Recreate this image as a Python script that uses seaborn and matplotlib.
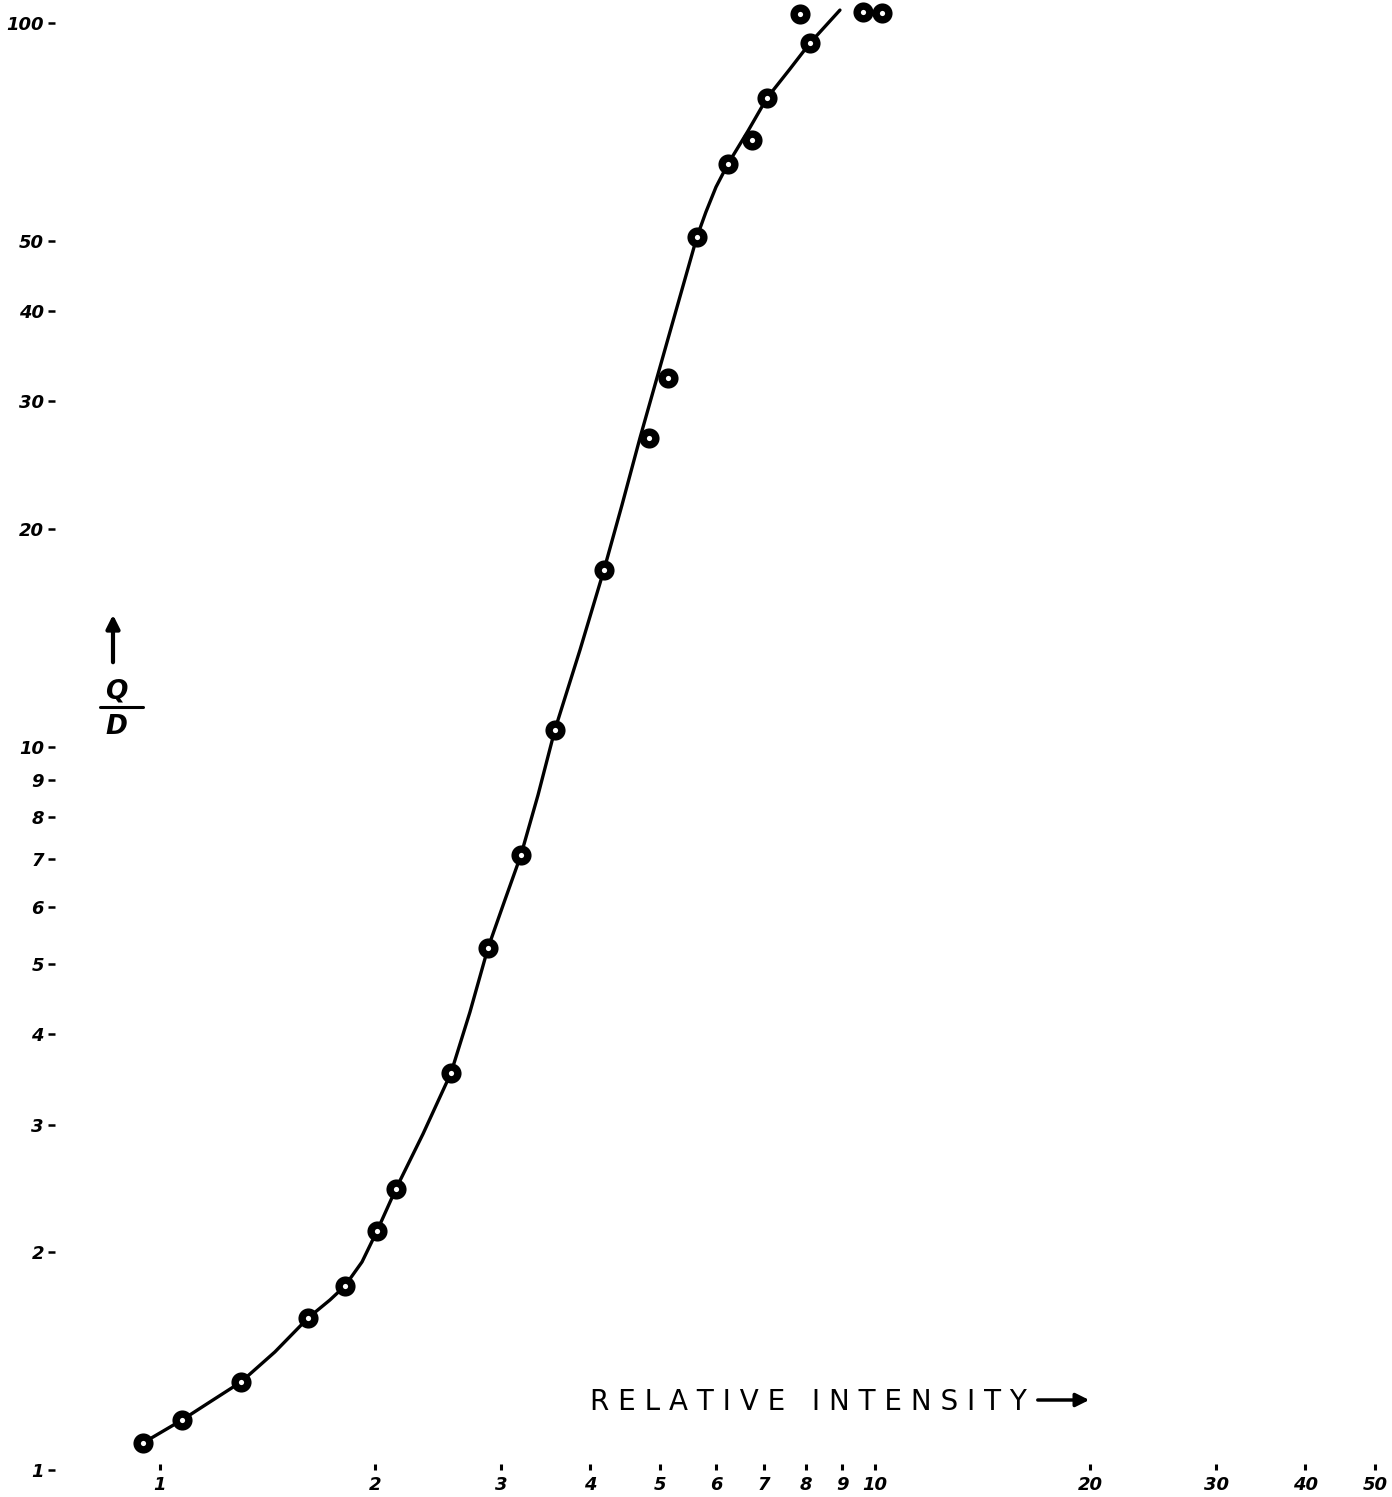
import matplotlib
matplotlib.use("Agg")
import matplotlib.pyplot as plt
import seaborn as sns
from matplotlib.ticker import FixedLocator, NullLocator, FixedFormatter
from matplotlib.lines import Line2D

# ---- data (log-log plot) ----
intensity = [0.947, 1.073, 1.298, 1.611, 1.814, 2.012, 2.138, 2.553, 2.876, 3.198,
             3.567, 4.178, 4.830, 5.134, 5.636, 6.229, 6.730, 7.063, 8.113, 7.857,
             9.621, 10.23]
ratio = [1.090, 1.172, 1.323, 1.622, 1.796, 2.140, 2.446, 3.538, 5.266, 7.079,
         10.54, 17.54, 26.70, 32.31, 50.61, 63.86, 68.90, 78.77, 93.85, 102.9,
         103.6, 103.2]

# hand-drawn smooth curve
curve_intensity = [0.947, 1.073, 1.175, 1.298, 1.448, 1.611, 1.729, 1.814, 1.917,
                   2.012, 2.138, 2.333, 2.553, 2.714, 2.876, 3.037, 3.198, 3.379,
                   3.567, 3.868, 4.178, 4.428, 4.692, 5.134, 5.636, 5.802, 5.993,
                   6.229, 6.643, 7.063, 7.604, 8.113, 8.933]
curve_ratio = [1.090, 1.172, 1.242, 1.323, 1.456, 1.622, 1.718, 1.796, 1.939,
               2.140, 2.446, 2.914, 3.538, 4.296, 5.266, 6.135, 7.079, 8.570,
               10.54, 13.60, 17.54, 21.57, 26.70, 36.58, 50.61, 54.80, 59.33,
               63.86, 70.91, 78.77, 86.38, 93.85, 104.2]

x_ticks = [1, 2, 3, 4, 5, 6, 7, 8, 9, 10, 20, 30, 40, 50]
x_tick_labels = ["1", "2", "3", "4", "5", "6", "7", "8", "9", "10", "20", "30", "40", "50"]
y_ticks = [1, 2, 3, 4, 5, 6, 7, 8, 9, 10, 20, 30, 40, 50, 100]
y_tick_labels = ["1", "2", "3", "4", "5", "6", "7", "8", "9", "10", "20", "30", "40", "50", "100"]

x_title = "R E L A T I V E   I N T E N S I T Y"
y_title_top = "Q"
y_title_bottom = "D"

# ---- styling ----
sns.set_theme(style="white")
plt.rcParams['font.family'] = ['DejaVu Sans']
plt.rcParams['text.color'] = 'black'

W, H = 1392, 1497
fig = plt.figure(figsize=(W / 100, H / 100), dpi=100)
left_px, bottom_px = 55, 27
ax = fig.add_axes([left_px / W, bottom_px / H, 1 - left_px / W, 1 - bottom_px / H])
ax.set_xscale('log')
ax.set_yscale('log')

sns.lineplot(x=curve_intensity, y=curve_ratio, ax=ax, color='black', linewidth=2.4,
             sort=False, estimator=None, zorder=2)
sns.scatterplot(x=intensity, y=ratio, ax=ax, s=210, color='black', edgecolor='black',
                linewidth=0, zorder=3, clip_on=False)
sns.scatterplot(x=intensity, y=ratio, ax=ax, s=14, color='white', edgecolor='white',
                linewidth=0, zorder=4, clip_on=False)

ax.set_xlim(0.7133, 52.85)
ax.set_ylim(1.0, 107.6)

for s in ax.spines.values():
    s.set_visible(False)
ax.grid(False)

ax.xaxis.set_major_locator(FixedLocator(x_ticks))
ax.xaxis.set_major_formatter(FixedFormatter(x_tick_labels))
ax.xaxis.set_minor_locator(NullLocator())
ax.yaxis.set_major_locator(FixedLocator(y_ticks))
ax.yaxis.set_major_formatter(FixedFormatter(y_tick_labels))
ax.yaxis.set_minor_locator(NullLocator())

ax.tick_params(axis='x', which='major', direction='in', length=4.5, width=2.2,
               pad=4, color='black', labelcolor='black', bottom=True)
ax.tick_params(axis='y', which='major', direction='out', length=5, width=1.8,
               pad=3, color='black', labelcolor='black', left=True)
for lab in ax.get_xticklabels() + ax.get_yticklabels():
    lab.set_fontsize(13)
    lab.set_fontweight('bold')
    lab.set_fontstyle('italic')

# x axis title with arrow
fig.text(590 / W, 1 - 1402 / H, x_title, fontsize=20, ha='left', va='center',
         color='black')
ax.annotate('', xy=(1092 / W, 1 - 1400 / H), xytext=(1035 / W, 1 - 1400 / H),
            xycoords='figure fraction', textcoords='figure fraction',
            arrowprops=dict(arrowstyle='-|>', color='black', lw=2.5, mutation_scale=20))

# y axis title: arrow up, then fraction
ax.annotate('', xy=(113 / W, 1 - 612 / H), xytext=(113 / W, 1 - 665 / H),
            xycoords='figure fraction', textcoords='figure fraction',
            arrowprops=dict(arrowstyle='-|>', color='black', lw=3, mutation_scale=20))
fig.text(116 / W, 1 - 691 / H, y_title_top, fontsize=19, fontweight='bold',
         fontstyle='italic', ha='center', va='center', color='black')
fig.add_artist(Line2D([100 / W, 143 / W], [1 - 707 / H, 1 - 707 / H],
                      transform=fig.transFigure, color='black', lw=2.2))
fig.text(116 / W, 1 - 727 / H, y_title_bottom, fontsize=19, fontweight='bold',
         fontstyle='italic', ha='center', va='center', color='black')

fig.savefig('out.png', dpi=100, facecolor='white')
